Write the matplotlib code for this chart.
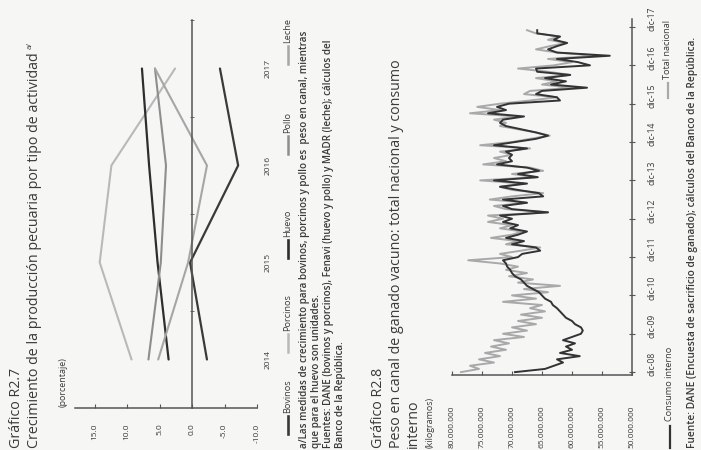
import matplotlib
matplotlib.use('Agg')
import matplotlib.pyplot as plt
from matplotlib.lines import Line2D
from matplotlib.ticker import FixedLocator
import numpy as np

# ---------------- data: chart R2.7 ----------------
years = ['2014', '2015', '2016', '2017']
bovinos = [-2.3, 0.3, -7.1, -4.3]
porcinos = [9.3, 14.2, 12.4, 2.6]
huevo = [3.6, 5.3, 6.6, 7.7]
pollo = [6.7, 4.8, 4.0, 5.7]
leche = [5.2, 0.6, -2.3, 5.7]
pct_ticks = [15, 10, 5, 0, -5, -10]

# ---------------- data: chart R2.8 (millones de kg, mensual) ----------------
total_nacional = [
    78.5, 75.5, 77.0, 73.0, 75.5, 72.0, 74.5, 71.0, 73.5, 70.5, 73.0, 68.0,
    71.5, 67.5, 70.0, 66.0, 69.0, 65.0, 68.5, 64.5, 67.0, 65.0, 71.5, 66.0,
    70.0, 64.0, 68.0, 62.0, 69.0, 66.5, 70.5, 67.5, 71.0, 69.0, 72.0, 77.3,
    70.0, 72.0, 68.5, 65.3, 71.0, 69.0, 73.5, 70.0, 68.3, 72.0, 70.0, 74.0,
    71.5, 74.0, 64.0, 71.0, 73.0, 67.5, 73.7, 70.0, 64.8, 70.0, 72.0, 68.0,
    75.3, 66.0, 70.0, 64.8, 67.0, 74.8, 71.0, 73.0, 70.0, 72.0, 67.0, 75.3,
    70.0, 67.0, 63.7, 66.0, 69.0, 72.0, 71.0, 73.0, 69.0, 77.0, 72.0, 75.8,
    72.0, 67.0, 62.5, 68.0, 67.0, 60.0, 65.0, 62.5, 66.0, 60.3, 64.0, 69.0,
    63.0, 60.0, 64.0, 55.8, 62.5, 66.0, 63.7, 61.0, 64.0, 62.0, 66.0, 67.5,
]
consumo_interno = [
    69.5, 64.5, 63.0, 61.5, 62.5, 58.7, 62.0, 60.0, 61.0, 59.5, 61.5, 60.0,
    58.5, 58.2, 58.5, 59.5, 60.0, 61.0, 61.5, 62.0, 62.5, 63.2, 63.5, 64.5,
    65.0, 65.5, 66.5, 67.5, 68.0, 68.5, 69.5, 70.0, 70.3, 70.8, 71.0, 71.5,
    69.0, 68.3, 65.3, 66.0, 70.0, 68.0, 71.0, 69.0, 67.5, 70.3, 69.0, 71.5,
    70.0, 72.0, 64.0, 70.0, 71.5, 67.5, 71.5, 64.8, 65.5, 69.0, 72.0, 67.5,
    73.0, 65.7, 69.0, 65.5, 67.5, 72.5, 70.0, 70.5, 70.0, 71.0, 67.5, 73.0,
    69.5, 66.0, 64.0, 66.0, 68.5, 71.0, 72.0, 71.5, 68.0, 74.0, 71.0, 72.5,
    70.5, 62.0, 62.5, 66.0, 65.0, 57.5, 63.5, 61.0, 64.5, 60.3, 65.8, 66.0,
    57.0, 59.0, 62.5, 53.7, 62.5, 64.0, 62.5, 60.8, 63.0, 62.0, 65.8, 65.8,
]
kg_ticks = [80, 75, 70, 65, 60, 55, 50]
date_labels = ['dic-08', 'dic-09', 'dic-10', 'dic-11', 'dic-12',
               'dic-13', 'dic-14', 'dic-15', 'dic-16', 'dic-17']

# ---------------- styling ----------------
W, H = 701, 450
TXT = '#3a3a3a'
AXC = '#555555'
plt.rcParams['font.family'] = ['Open Sans', 'DejaVu Sans']

fig = plt.figure(figsize=(W / 100, H / 100), dpi=100)
fig.patch.set_facecolor('#f6f6f4')


def fx(x):
    return x / W


def fy(y):
    return 1 - y / H


def add_ax(x0, y0, x1, y1):
    return fig.add_axes([fx(x0), fy(y1), (x1 - x0) / W, (y1 - y0) / H])


def vtext(x, y, s, size, **kw):
    return fig.text(fx(x), fy(y), s, rotation=90, rotation_mode='anchor',
                    ha='left', va='center', fontsize=size, color=TXT, **kw)


def vline_legend(x, y0, y1, color, lw):
    fig.add_artist(Line2D([fx(x), fx(x)], [fy(y0), fy(y1)],
                          transform=fig.transFigure, color=color, lw=lw))


# ================= Chart R2.7 (rotated) =================
ax1 = add_ax(75, 20, 257, 408)
ax1.set_facecolor('none')
pos = np.arange(len(years))
series1 = [
    ('Bovinos', bovinos, '#3a3a3a', 1.6),
    ('Porcinos', porcinos, '#b9b9b9', 1.5),
    ('Huevo', huevo, '#2e2e2e', 1.6),
    ('Pollo', pollo, '#8e8e8e', 1.5),
    ('Leche', leche, '#a6a6a6', 1.5),
]
for name, vals, col, lw in series1:
    ax1.plot(vals, pos, color=col, lw=lw, solid_capstyle='round')
ax1.set_xlim(18, -10)
ax1.set_ylim(-0.5, 3.5)
ax1.spines['top'].set_visible(False)
ax1.spines['right'].set_visible(False)
ax1.spines['left'].set_position(('data', 0))
ax1.spines['left'].set_color(AXC)
ax1.spines['bottom'].set_color(AXC)
ax1.spines['left'].set_linewidth(1.1)
ax1.spines['bottom'].set_linewidth(1.1)
ax1.set_xticks(pct_ticks, [f'{v:.1f}' for v in pct_ticks])
ax1.tick_params(axis='x', direction='in', length=3, color=AXC, labelsize=6,
                labelcolor=TXT, labelrotation=90, pad=11)
ax1.set_yticks(pos, years)
ax1.yaxis.set_minor_locator(FixedLocator(list(pos + 0.5)))
ax1.tick_params(axis='y', which='major', left=False, right=False,
                labelleft=False, labelright=True, labelsize=6,
                labelcolor=TXT, labelrotation=90, pad=2)
ax1.tick_params(axis='y', which='minor', left=True, right=False,
                length=3, direction='inout', color=AXC)
for lab in ax1.get_yticklabels():
    lab.set_va('center')

vtext(17, 448, 'Gráfico R2.7', 10.3)
sub1 = vtext(34, 448, 'Crecimiento de la producción pecuaria por tipo de actividad', 10.3)
vtext(63, 407, '(porcentaje)', 6.4)

# legend chart 1 (rotated)
leg_y = [434, 352, 258, 154, 64]
for (name, vals, col, lw), y in zip(series1, leg_y):
    vline_legend(288, y, y - 18, col, lw + 0.3)
    vtext(288, y - 21, name, 6.6)

notes1 = [
    'a/Las medidas de crecimiento para bovinos, porcinos y pollo es  peso en canal, mientras',
    'que para el huevo son unidades.',
    'Fuentes: DANE (bovinos y porcinos), Fenavi (huevo y pollo) y MADR (leche); cálculos del',
    'Banco de la República.',
]
for k, s in enumerate(notes1):
    vtext(304 + 12 * k, 448, s, 7.1, fontweight='semibold')

# ================= Chart R2.8 (rotated) =================
ax2 = add_ax(452, 19, 632, 375)
ax2.set_facecolor('none')
months = np.arange(len(total_nacional))
ax2.plot(total_nacional, months, color='#a9a9a9', lw=1.4)
ax2.plot(consumo_interno, months, color='#333333', lw=1.4)
ax2.set_xlim(80, 50)
ax2.set_ylim(-0.9, 108.6)
ax2.spines['top'].set_visible(False)
ax2.spines['left'].set_visible(False)
for sp in ('right', 'bottom'):
    ax2.spines[sp].set_color(AXC)
    ax2.spines[sp].set_linewidth(1.1)
ax2.set_xticks(kg_ticks, [f'{v * 1_000_000:,.0f}'.replace(',', '.') for v in kg_ticks])
ax2.tick_params(axis='x', direction='in', length=3, color=AXC, labelsize=6,
                labelcolor=TXT, labelrotation=90, pad=22)
ax2.set_yticks(np.arange(0, 109, 12), [''] * 10)
ax2.set_yticks(np.arange(0, 109, 12) + 2.5, date_labels, minor=True)
ax2.tick_params(axis='y', which='major', left=False, right=True,
                labelleft=False, direction='inout', length=4, color=AXC)
ax2.tick_params(axis='y', which='minor', left=False, right=False,
                labelleft=False, labelright=True, labelsize=6.2,
                labelcolor=TXT, labelrotation=90, pad=9)
for lab in ax2.get_yticklabels(minor=True):
    lab.set_va('center')

vtext(379, 448, 'Gráfico R2.8', 10.3)
vtext(396, 448, 'Peso en canal de ganado vacuno: total nacional y consumo', 10.3)
vtext(413, 448, 'interno', 10.3)
vtext(430, 448, '(kilogramos)', 6.4)

# legend chart 2
vline_legend(670, 448, 426, '#333333', 1.6)
vtext(670, 421, 'Consumo interno', 6.6)
vline_legend(668, 98, 83, '#a9a9a9', 1.6)
vtext(668, 79, 'Total nacional', 6.6)

vtext(693, 448, 'Fuente: DANE (Encuesta de sacrificio de ganado); cálculos del Banco de la República.',
      7.3, fontweight='semibold')

# superscript "a/" right after the chart 1 subtitle
fig.canvas.draw()
bb = sub1.get_window_extent()
fig.text(fx(30), (bb.y1 + 3) / fig.bbox.height, 'a/', rotation=90,
         rotation_mode='anchor', ha='left', va='center', fontsize=5.5, color=TXT)

fig.savefig('out.png', dpi=100, facecolor=fig.get_facecolor())
